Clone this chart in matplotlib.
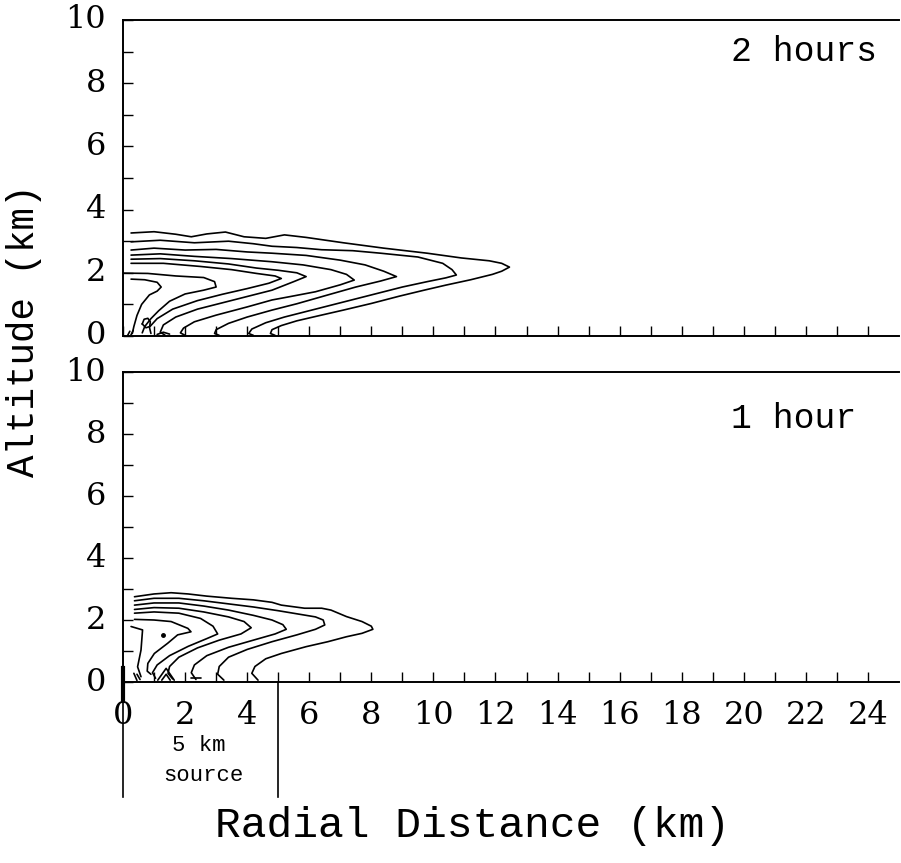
import matplotlib
matplotlib.use("Agg")
import matplotlib.pyplot as plt
import matplotlib.transforms as mtransforms

# ---------------- data (km) ----------------
x_ticks = list(range(0, 25, 2))
x_tick_labels = [str(v) for v in x_ticks]
y_ticks = list(range(0, 11, 2))
y_tick_labels = [str(v) for v in y_ticks]
panel_titles = ["2 hours", "1 hour"]
source_edges = [0, 5]
source_label_lines = ["5 km", "source"]

# contour lines, 2 hours (radial distance, altitude)
c2h_1 = [(0.26, 3.26), (1.0, 3.30), (1.7, 3.22), (2.2, 3.14), (2.7, 3.23), (3.3, 3.29), (3.9, 3.14),
         (4.6, 3.09), (5.2, 3.20), (5.9, 3.12), (7.1, 2.95), (8.4, 2.78), (9.8, 2.62), (10.9, 2.47),
         (11.8, 2.38), (12.2, 2.30), (12.45, 2.18), (12.2, 2.05), (11.9, 1.95), (11.2, 1.78),
         (10.4, 1.61), (9.7, 1.45), (8.9, 1.26), (8.0, 1.03), (7.1, 0.82), (6.3, 0.64), (5.6, 0.48),
         (5.1, 0.33), (4.8, 0.20), (4.75, 0.08), (4.9, 0.02)]
c2h_2 = [(0.26, 2.98), (1.2, 3.03), (2.3, 2.95), (3.4, 3.00), (4.2, 2.92), (4.8, 2.84), (5.6, 2.80),
         (6.4, 2.73), (7.4, 2.70), (8.3, 2.62), (9.5, 2.50), (10.3, 2.30), (10.6, 2.10), (10.74, 1.93),
         (10.4, 1.84), (9.8, 1.72), (9.0, 1.55), (8.0, 1.30), (7.0, 1.05), (6.0, 0.80), (5.2, 0.60),
         (4.6, 0.42), (4.15, 0.22), (4.05, 0.08), (4.2, 0.02)]
c2h_3 = [(0.26, 2.72), (1.0, 2.78), (2.0, 2.72), (3.0, 2.74), (4.0, 2.66), (4.8, 2.62), (5.9, 2.55),
         (7.0, 2.40), (7.8, 2.25), (8.4, 2.05), (8.81, 1.88), (8.3, 1.74), (7.5, 1.55), (6.6, 1.30),
         (5.6, 1.02), (4.8, 0.82), (4.0, 0.60), (3.4, 0.40), (3.0, 0.20), (2.95, 0.08), (3.1, 0.02)]
c2h_4 = [(0.26, 2.56), (1.2, 2.60), (2.3, 2.52), (3.5, 2.45), (4.8, 2.35), (5.8, 2.25), (6.7, 2.10),
         (7.2, 1.95), (7.45, 1.77), (7.0, 1.62), (6.2, 1.40), (5.4, 1.25), (4.8, 1.14), (4.0, 0.92),
         (3.0, 0.66), (2.3, 0.45), (1.95, 0.25), (1.85, 0.10), (2.0, 0.02)]
c2h_5 = [(0.26, 2.43), (1.2, 2.45), (2.3, 2.38), (3.4, 2.28), (4.3, 2.15), (5.0, 2.08), (5.6, 2.00),
         (5.9, 1.88), (5.5, 1.72), (4.8, 1.45), (4.2, 1.30), (3.4, 1.10), (2.4, 0.85), (1.7, 0.60),
         (1.3, 0.35), (1.2, 0.12), (1.35, 0.03)]
c2h_6 = [(0.26, 2.30), (1.3, 2.30), (2.5, 2.20), (3.5, 2.10), (4.3, 1.98), (4.9, 1.90), (5.1, 1.82),
         (4.7, 1.67), (4.0, 1.50), (3.2, 1.32), (2.4, 1.12), (1.6, 0.85), (1.1, 0.55), (0.85, 0.28),
         (0.9, 0.08)]
c2h_7 = [(0.0, 1.99), (0.8, 1.98), (1.7, 1.90), (2.6, 1.85), (2.95, 1.72), (3.0, 1.55), (2.6, 1.45),
         (2.0, 1.33), (1.5, 1.10), (1.15, 0.80), (0.9, 0.55), (0.7, 0.30), (0.62, 0.10)]
c2h_8 = [(0.26, 1.80), (0.7, 1.78), (1.1, 1.70), (1.23, 1.55), (1.1, 1.42), (0.85, 1.30), (0.6, 1.00),
         (0.45, 0.65), (0.35, 0.30), (0.3, 0.08)]
c2h_9 = [(0.62, 0.38), (0.68, 0.53), (0.80, 0.56), (0.88, 0.45), (0.86, 0.30), (0.74, 0.26), (0.62, 0.38)]
c2h_10 = [(0.15, 0.02), (0.22, 0.15)]
c2h_11 = [(0.25, 0.02), (0.33, 0.18)]
c2h_12 = [(1.1, 0.05), (1.3, 0.12), (1.5, 0.06)]
contours_2h = [c2h_1, c2h_2, c2h_3, c2h_4, c2h_5, c2h_6, c2h_7, c2h_8, c2h_9, c2h_10, c2h_11, c2h_12]

# contour lines, 1 hour
c1h_1 = [(0.37, 2.75), (1.0, 2.84), (1.55, 2.88), (2.1, 2.84), (2.7, 2.77), (3.5, 2.70), (4.2, 2.65),
         (4.8, 2.57), (5.1, 2.48), (5.85, 2.38), (6.4, 2.38), (6.7, 2.32), (7.2, 2.11), (7.7, 1.95),
         (8.0, 1.80), (8.05, 1.70), (7.7, 1.57), (7.2, 1.46), (6.6, 1.30), (5.9, 1.14), (5.1, 0.92),
         (4.6, 0.75), (4.25, 0.50), (4.15, 0.28), (4.35, 0.06)]
c1h_2 = [(0.37, 2.62), (1.0, 2.70), (1.8, 2.70), (2.6, 2.62), (3.4, 2.52), (4.2, 2.42), (5.0, 2.30),
         (5.6, 2.20), (6.2, 2.10), (6.45, 2.00), (6.5, 1.84), (6.2, 1.70), (5.6, 1.52), (4.8, 1.30),
         (4.0, 1.05), (3.4, 0.80), (3.1, 0.50), (3.05, 0.25), (3.25, 0.06)]
c1h_3 = [(0.37, 2.48), (1.0, 2.55), (1.8, 2.55), (2.6, 2.45), (3.4, 2.32), (4.2, 2.15), (4.8, 2.00),
         (5.15, 1.85), (5.26, 1.70), (4.9, 1.55), (4.2, 1.35), (3.4, 1.12), (2.7, 0.85), (2.3, 0.55),
         (2.2, 0.30), (2.35, 0.08)]
c1h_4 = [(0.37, 2.34), (1.0, 2.40), (1.8, 2.38), (2.6, 2.26), (3.4, 2.10), (3.9, 1.95), (4.13, 1.75),
         (3.8, 1.55), (3.1, 1.35), (2.4, 1.10), (1.8, 0.80), (1.5, 0.50), (1.45, 0.28), (1.6, 0.10)]
c1h_5 = [(0.37, 2.22), (1.0, 2.26), (1.8, 2.22), (2.5, 2.05), (2.9, 1.80), (3.05, 1.55), (2.7, 1.40),
         (2.1, 1.15), (1.5, 0.85), (1.1, 0.55), (0.95, 0.30), (1.05, 0.12)]
c1h_6 = [(0.37, 2.02), (1.0, 2.00), (1.55, 1.95), (2.09, 1.73), (2.19, 1.62), (1.76, 1.52), (1.44, 1.25),
         (1.01, 0.92), (0.80, 0.60), (0.78, 0.35), (0.9, 0.25)]
c1h_7 = [(0.26, 1.79), (0.63, 1.68), (0.58, 1.03), (0.47, 0.49), (0.58, 0.17)]
c1h_8 = [(1.12, 0.06), (1.39, 0.44), (1.65, 0.06)]
c1h_9 = [(1.25, 0.06), (1.39, 0.25), (1.52, 0.06)]
c1h_10 = [(0.45, 0.25), (0.55, 0.08)]
c1h_11 = [(0.35, 0.28), (0.45, 0.05)]
c1h_12 = [(2.2, 0.12), (2.5, 0.12)]
contours_1h = [c1h_1, c1h_2, c1h_3, c1h_4, c1h_5, c1h_6, c1h_7, c1h_8, c1h_9, c1h_10, c1h_11, c1h_12]
dot_1h = (1.28, 1.52)

# ---------------- figure ----------------
W, H = 901, 863
fig = plt.figure(figsize=(W / 100, H / 100), dpi=100)
fig.patch.set_facecolor("white")

left, right = 123 / W, 899 / W
ax_top = fig.add_axes([left, 1 - 336 / H, right - left, (336 - 20) / H])
ax_bot = fig.add_axes([left, 1 - 682 / H, right - left, (682 - 372) / H])

tick_font = {"family": "DejaVu Serif", "size": 23}
mono = "Liberation Mono"

for ax, contours, title in [(ax_top, contours_2h, panel_titles[0]), (ax_bot, contours_1h, panel_titles[1])]:
    for line in contours:
        xs = [p[0] for p in line]
        ys = [p[1] for p in line]
        ax.plot(xs, ys, color="black", lw=1.2, solid_joinstyle="round", solid_capstyle="round")
    ax.set_xlim(0, 25)
    ax.set_ylim(0, 10)
    ax.set_xticks(range(0, 25))
    ax.set_yticks(range(0, 11))
    ax.tick_params(axis="both", which="both", direction="in", length=7, width=1.0,
                   labelbottom=False, labelleft=False)
    ax.spines["right"].set_visible(False)
    for s in ["left", "top", "bottom"]:
        ax.spines[s].set_linewidth(1.4)
    ax.text(19.6, 9.0 if ax is ax_top else 8.5, title, fontfamily=mono, fontsize=25,
            ha="left", va="center")
    # y tick labels
    for v, lab in zip(y_ticks, y_tick_labels):
        ax.annotate(lab, xy=(0, v), xycoords=("axes fraction", "data"), xytext=(-17, 0),
                    textcoords="offset pixels", ha="right", va="center", **tick_font)

ax_bot.plot(*dot_1h, marker="o", ms=2.5, color="black")

# x tick labels on the lower panel
for v, lab in zip(x_ticks, x_tick_labels):
    ax_bot.annotate(lab, xy=(v, 0), xycoords=("data", "axes fraction"), xytext=(0, -18),
                    textcoords="offset pixels", ha="center", va="top", **tick_font)

# source marker
trans = mtransforms.blended_transform_factory(ax_bot.transData, ax_bot.transAxes)
ax_bot.plot([source_edges[0], source_edges[0]], [0.045, -0.371], color="black", lw=1.2,
            transform=trans, clip_on=False)
ax_bot.plot([source_edges[0], source_edges[0]], [0.045, -0.06], color="black", lw=3,
            transform=trans, clip_on=False)
ax_bot.plot([source_edges[1], source_edges[1]], [0.0, -0.371], color="black", lw=1.2,
            transform=trans, clip_on=False)
ax_bot.text(2.45, -0.205, source_label_lines[0], transform=trans, ha="center", va="center",
            fontfamily=mono, fontsize=16)
ax_bot.text(2.6, -0.30, source_label_lines[1], transform=trans, ha="center", va="center",
            fontfamily=mono, fontsize=16)

fig.text(24 / W, 1 - 331 / H, "Altitude (km)", rotation=90, ha="center", va="center",
         fontfamily=mono, fontsize=27)
fig.text(472 / W, 1 - 826 / H, "Radial Distance (km)", ha="center", va="center",
         fontfamily=mono, fontsize=31)

fig.savefig("out.png", dpi=100, facecolor="white")
